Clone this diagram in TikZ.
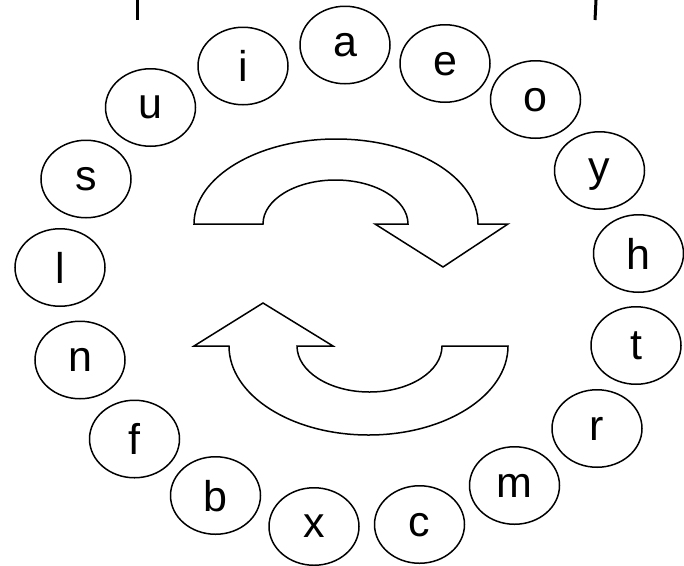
\documentclass[tikz,border=0pt]{standalone}
\usepackage{fontspec}
\setmainfont{Liberation Sans}
\usetikzlibrary{shapes.geometric}
\begin{document}
\begin{tikzpicture}[x=1pt,y=-1pt,
  letter/.style={draw,ellipse,line width=1.5pt,minimum width=90pt,minimum height=77.5pt,inner sep=0pt,text depth=0pt,font=\fontsize{43}{43}\selectfont},
  bigarrow/.style={draw,line width=1.5pt,line join=miter,fill=white},
  topmark/.style={line width=3pt}]
\useasboundingbox (0,0) rectangle (684,565);
\node[letter] (a) at (345,45) {a};
\node[letter] (i) at (243,66) {i};
\node[letter] (e) at (445,63.5) {e};
\node[letter] (o) at (535.5,99.5) {o};
\node[letter] (u) at (150.5,107.5) {u};
\node[letter] (y) at (599.5,170.5) {y};
\node[letter] (s) at (86,179) {s};
\node[letter] (h) at (638.5,253.5) {h};
\node[letter] (l) at (60,267.5) {l};
\node[letter] (t) at (636,345.5) {t};
\node[letter] (n) at (80,360) {n};
\node[letter] (r) at (597,428.5) {r};
\node[letter] (f) at (134.5,439) {f};
\node[letter] (m) at (514.5,485.5) {m};
\node[letter] (b) at (215.5,495.5) {b};
\node[letter] (c) at (419.5,524.5) {c};
\node[letter] (x) at (314,526.5) {x};
% top marks
\coordinate (m1a) at (137.5,0); \coordinate (m1b) at (137.5,20);
\coordinate (m2a) at (596,0); \coordinate (m2b) at (595,20);
\draw[topmark] (m1a) -- (m1b);
\draw[topmark] (m2a) -- (m2b);
% upper arrow
\draw[bigarrow] (194,224) arc[start angle=180,end angle=0,x radius=142pt,y radius=85pt]
  -- (508,224) -- (443,267) -- (375,224) -- (408,224)
  arc[start angle=0,end angle=180,x radius=72.5pt,y radius=44pt] -- cycle;
% lower arrow
\draw[bigarrow] (263,303) -- (333,346) -- (297,346)
  arc[start angle=180,end angle=360,x radius=72.5pt,y radius=46pt]
  -- (508,346) arc[start angle=0,end angle=-180,x radius=139.5pt,y radius=89pt]
  -- (194,346) -- cycle;
\end{tikzpicture}
\end{document}
